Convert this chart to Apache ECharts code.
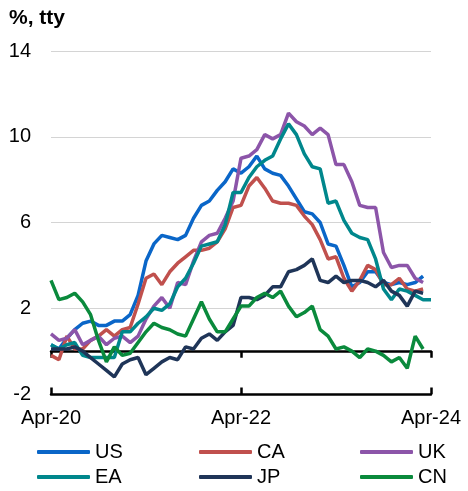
<!DOCTYPE html>
<html>
<head>
<meta charset="utf-8">
<script src="https://cdn.jsdelivr.net/npm/echarts@6/dist/echarts.min.js"></script>
<style>
  html, body { margin: 0; padding: 0; background: #fff; }
  #chart { width: 468px; height: 491px; }
</style>
</head>
<body>
<div id="chart"></div>
<script>
// months Apr-20 .. Apr-24
const months = [
  'Apr-20','May-20','Jun-20','Jul-20','Aug-20','Sep-20','Oct-20','Nov-20','Dec-20',
  'Jan-21','Feb-21','Mar-21','Apr-21','May-21','Jun-21','Jul-21','Aug-21','Sep-21','Oct-21','Nov-21','Dec-21',
  'Jan-22','Feb-22','Mar-22','Apr-22','May-22','Jun-22','Jul-22','Aug-22','Sep-22','Oct-22','Nov-22','Dec-22',
  'Jan-23','Feb-23','Mar-23','Apr-23','May-23','Jun-23','Jul-23','Aug-23','Sep-23','Oct-23','Nov-23','Dec-23',
  'Jan-24','Feb-24','Mar-24','Apr-24'
];

// inflation, % y/y
const us = [0.3, 0.1, 0.6, 1.0, 1.3, 1.4, 1.2, 1.2, 1.4, 1.4, 1.7, 2.6, 4.2, 5.0, 5.4, 5.3, 5.2, 5.4, 6.2, 6.8, 7.0,
  7.5, 7.9, 8.5, 8.3, 8.6, 9.1, 8.5, 8.3, 8.2, 7.7, 7.1, 6.5, 6.4, 6.0, 5.0, 4.9, 4.0, 3.0, 3.2, 3.7, 3.7,
  3.2, 3.1, 3.2, 3.1, 3.2, 3.5];
const ca = [-0.2, -0.4, 0.7, 0.1, 0.1, 0.5, 0.7, 1.0, 0.7, 1.0, 1.1, 2.2, 3.4, 3.6, 3.1, 3.7, 4.1, 4.4, 4.7, 4.7, 4.8,
  5.1, 5.7, 6.7, 6.8, 7.7, 8.1, 7.6, 7.0, 6.9, 6.9, 6.8, 6.3, 5.9, 5.2, 4.3, 4.4, 3.4, 2.8, 3.3, 4.0, 3.8,
  3.1, 3.1, 3.4, 2.9, 2.8, 2.9];
const uk = [0.8, 0.5, 0.6, 1.0, 0.3, 0.5, 0.7, 0.3, 0.6, 0.7, 0.4, 0.7, 1.5, 2.1, 2.5, 2.0, 3.2, 3.1, 4.2, 5.1, 5.4,
  5.5, 6.2, 7.0, 9.0, 9.1, 9.4, 10.1, 9.9, 10.1, 11.1, 10.7, 10.5, 10.1, 10.4, 10.1, 8.7, 8.7, 7.9, 6.8, 6.7, 6.7,
  4.6, 3.9, 4.0, 4.0, 3.4, 3.2];
const ea = [0.3, 0.1, 0.3, 0.4, -0.2, -0.3, -0.3, -0.3, -0.3, 0.9, 0.9, 1.3, 1.6, 2.0, 1.9, 2.2, 3.0, 3.4, 4.1, 4.9, 5.0,
  5.1, 5.9, 7.4, 7.4, 8.1, 8.6, 8.9, 9.1, 9.9, 10.6, 10.1, 9.2, 8.6, 8.5, 6.9, 7.0, 6.1, 5.5, 5.3, 5.2, 4.3,
  2.9, 2.4, 2.9, 2.8, 2.6, 2.4, 2.4];
const jp = [0.1, 0.1, 0.1, 0.2, 0.0, -0.3, -0.6, -0.9, -1.2, -0.6, -0.4, -0.3, -1.1, -0.8, -0.5, -0.3, -0.4, 0.2, 0.1, 0.6, 0.8,
  0.5, 0.9, 1.2, 2.5, 2.5, 2.4, 2.6, 3.0, 3.0, 3.7, 3.8, 4.0, 4.3, 3.3, 3.2, 3.5, 3.2, 3.3, 3.3, 3.2, 3.0,
  3.3, 2.8, 2.6, 2.1, 2.8, 2.7];
const cn = [3.3, 2.4, 2.5, 2.7, 2.3, 1.7, 0.5, -0.5, 0.2, -0.2, -0.1, 0.4, 0.9, 1.3, 1.1, 1.0, 0.8, 0.7, 1.5, 2.3, 1.5,
  0.9, 0.9, 1.5, 2.1, 2.1, 2.5, 2.7, 2.5, 2.8, 2.1, 1.6, 1.8, 2.1, 1.0, 0.7, 0.1, 0.2, 0.0, -0.3, 0.1, 0.0,
  -0.2, -0.5, -0.3, -0.8, 0.7, 0.1];

const yTicks = [-2, 2, 6, 10, 14];

const names = ['US', 'CA', 'UK', 'EA', 'JP', 'CN'];
const colors = ['#0A66C8', '#C0504D', '#8C55A9', '#00878C', '#1F3558', '#0A8A3C'];
const seriesData = [us, ca, uk, ea, jp, cn];

const font = "'Liberation Sans', Arial, sans-serif";

const chart = echarts.init(document.getElementById('chart'));

const baseX = {
  type: 'category',
  data: months,
  boundaryGap: false,
  position: 'bottom',
  splitLine: { show: false }
};

const legendBase = {
  orient: 'vertical',
  top: 442,
  padding: 0,
  itemWidth: 53,
  itemHeight: 4,
  itemGap: 5,
  icon: 'roundRect',
  textStyle: { fontSize: 20, lineHeight: 20, color: '#000', fontFamily: font }
};

const option = {
  animation: false,
  title: {
    text: '%, tty',
    left: 9,
    top: 8,
    padding: 0,
    textStyle: { fontSize: 21, fontWeight: 'bold', color: '#000', fontFamily: font }
  },
  grid: { left: 51, right: 37, top: 51, bottom: 97 },
  legend: [
    Object.assign({}, legendBase, { left: 37, data: ['US', 'EA'] }),
    Object.assign({}, legendBase, { left: 199, data: ['CA', 'JP'] }),
    Object.assign({}, legendBase, { left: 360, data: ['UK', 'CN'] })
  ],
  xAxis: [
    // labels at the bottom
    Object.assign({}, baseX, {
      axisLine: { show: false, onZero: false },
      axisTick: { show: false },
      axisLabel: { interval: 23, fontSize: 20, color: '#000', margin: 14, fontFamily: font }
    }),
    // zero line, ticks below
    Object.assign({}, baseX, {
      axisLine: { show: true, onZero: true, lineStyle: { color: '#000', width: 2.5 } },
      axisTick: { show: true, interval: 23, length: 6.5, inside: false, lineStyle: { color: '#000', width: 2.5 } },
      axisLabel: { show: false }
    }),
    // ticks above
    Object.assign({}, baseX, {
      axisLine: { show: true, onZero: true, lineStyle: { color: '#000', width: 2.5 } },
      axisTick: { show: true, interval: 23, length: 6.5, inside: true, lineStyle: { color: '#000', width: 2.5 } },
      axisLabel: { show: false }
    })
  ],
  yAxis: {
    type: 'value',
    min: yTicks[0],
    max: yTicks[yTicks.length - 1],
    interval: 4,
    axisLine: { show: false },
    axisTick: { show: false },
    axisLabel: { fontSize: 20, color: '#000', margin: 20, fontFamily: font },
    splitLine: { lineStyle: { color: '#D4D4D4', width: 1.2 } }
  },
  series: names.map((name, i) => ({
    name,
    type: 'line',
    xAxisIndex: 0,
    data: seriesData[i],
    symbol: 'none',
    color: colors[i],
    lineStyle: { width: 3.5, color: colors[i] }
  }))
};

chart.setOption(option);
</script>
</body>
</html>
